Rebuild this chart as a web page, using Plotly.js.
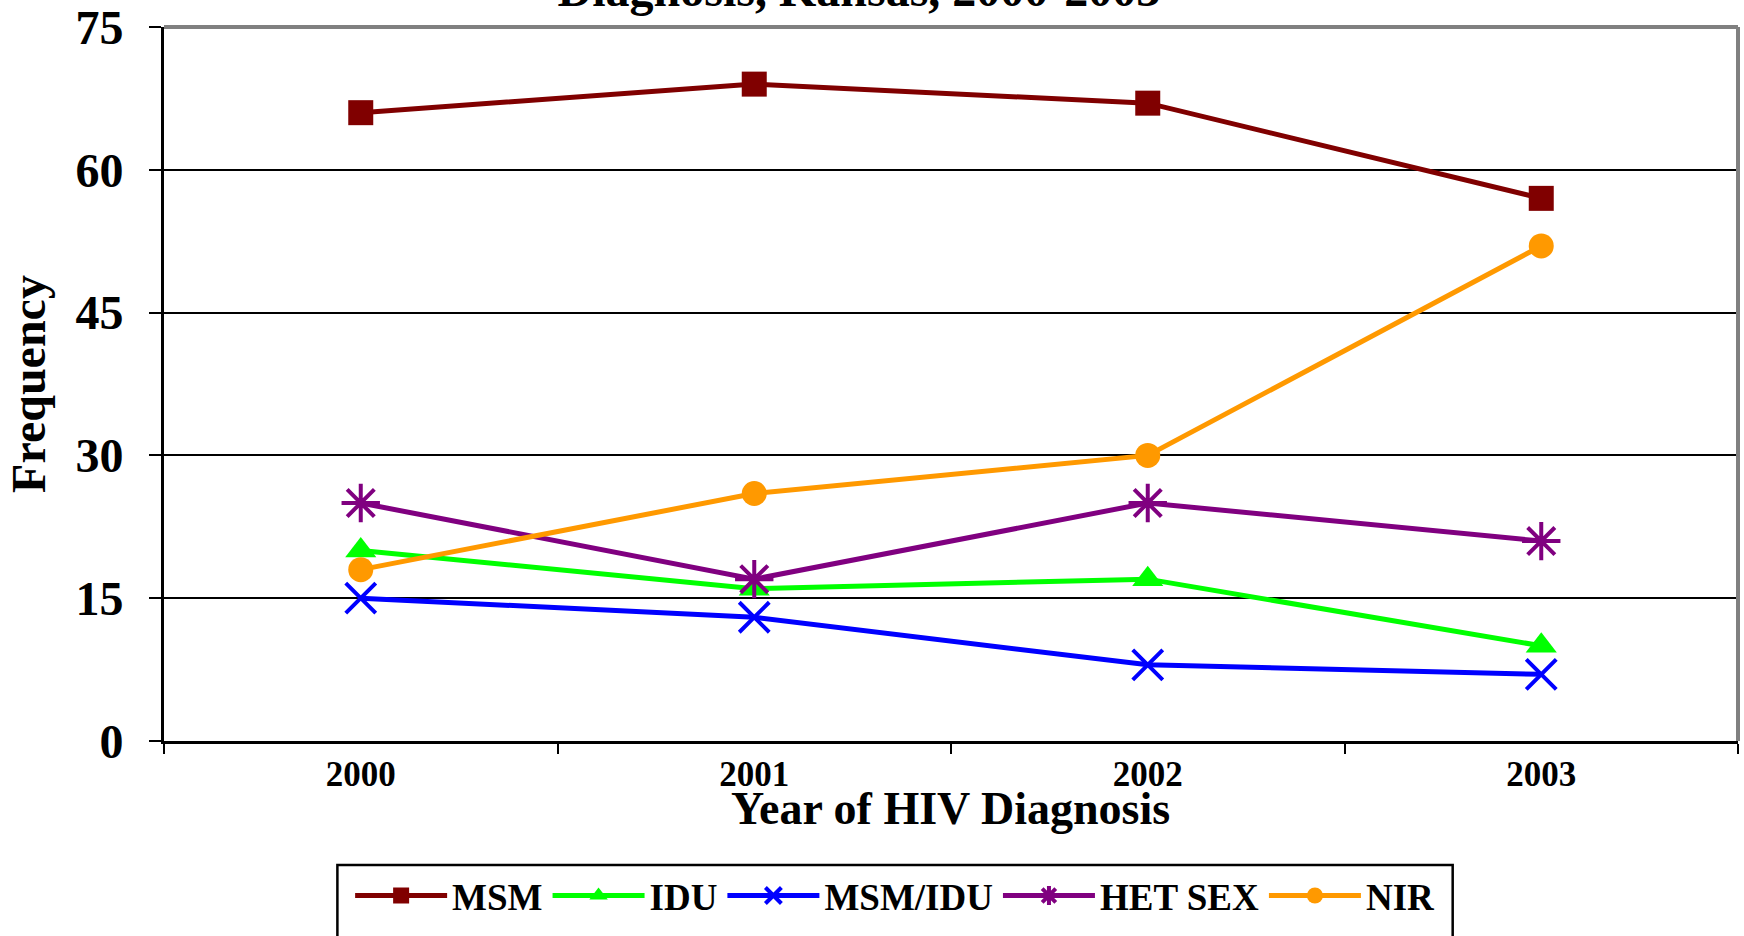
<!DOCTYPE html>
<html>
<head>
<meta charset="utf-8">
<script src="https://cdn.plot.ly/plotly-3.0.1.min.js"></script>
<style>
  html, body { margin: 0; padding: 0; background: #ffffff; }
  #chart { width: 1744px; height: 936px; }
</style>
</head>
<body>
<div id="chart"></div>
<script>
const years = ["2000", "2001", "2002", "2003"];
const msm = [66, 69, 67, 57];
const idu = [20, 16, 17, 10];
const msmIdu = [15, 13, 8, 7];
const hetSex = [25, 17, 25, 21];
const nir = [18, 26, 30, 52];
const yTicks = [0, 15, 30, 45, 60, 75];

const serif = "Liberation Serif, Times New Roman, Times, serif";

function series(name, values, color, symbol, size, lineMarker) {
  const marker = { color: color, size: size, symbol: symbol };
  if (lineMarker) {
    marker.line = { color: color, width: 4 };
  }
  return {
    x: years, y: values, name: name, type: "scatter", mode: "lines+markers",
    line: { color: color, width: 5 },
    marker: marker
  };
}

const data = [
  series("MSM", msm, "#800000", "square", 25, false),
  series("IDU", idu, "#00ff00", "triangle-up", 27, false),
  series("MSM/IDU", msmIdu, "#0000ff", "x-thin-open", 30, true),
  series("HET SEX", hetSex, "#800080", "asterisk-open", 32, true),
  series("NIR", nir, "#ff9900", "circle", 25, false)
];

const layout = {
  width: 1744, height: 936,
  paper_bgcolor: "#ffffff", plot_bgcolor: "#ffffff",
  margin: { l: 163.5, r: 5.5, t: 26.7, b: 195, autoexpand: false },
  font: { family: serif, color: "#000000", weight: "bold" },
  title: {
    text: "Diagnosis, Kansas, 2000-2003",
    font: { family: serif, size: 48, weight: "bold", color: "#000000" },
    xref: "container", x: 0.4925, xanchor: "center",
    yref: "container", y: 1 - 6 / 936, yanchor: "bottom"
  },
  xaxis: {
    type: "category",
    categoryarray: years,
    range: [-0.5, 3.5],
    tickson: "boundaries",
    ticks: "outside", ticklen: 10, tickwidth: 1.5, tickcolor: "#000000",
    ticklabelstandoff: 0,
    showline: true, linecolor: "#000000", linewidth: 3,
    showgrid: false, zeroline: false,
    tickfont: { family: serif, size: 35, weight: "bold", color: "#000000" }
  },
  yaxis: {
    range: [0, 75],
    tickvals: yTicks,
    ticktext: yTicks.map(String),
    ticks: "outside", ticklen: 12, tickwidth: 1.5, tickcolor: "#000000",
    ticklabelstandoff: 16,
    showline: true, linecolor: "#000000", linewidth: 3,
    showgrid: true, gridcolor: "#000000", gridwidth: 1.5,
    zeroline: false,
    tickfont: { family: serif, size: 48, weight: "bold", color: "#000000" },
    title: {
      text: "Frequency",
      font: { family: serif, size: 48, weight: "bold", color: "#000000" },
      standoff: 15
    }
  },
  annotations: [
    { text: "Year of HIV Diagnosis", xref: "paper", yref: "paper",
      x: 0.4995, y: -0.094, xanchor: "center", yanchor: "middle",
      showarrow: false,
      font: { family: serif, size: 46, weight: "bold", color: "#000000" } }
  ],
  shapes: [
    { type: "line", xref: "paper", yref: "paper", x0: 0, x1: 1, y0: 1, y1: 1,
      line: { color: "#808080", width: 4 } },
    { type: "line", xref: "paper", yref: "paper", x0: 1, x1: 1, y0: 0, y1: 1,
      line: { color: "#808080", width: 4 } },
    { type: "rect", xref: "paper", yref: "paper",
      x0: (337 - 163.5) / 1575, x1: (1453 - 163.5) / 1575,
      y0: (741 - 865) / 714.3, y1: (741 - 960) / 714.3,
      line: { color: "#000000", width: 2.5 }, fillcolor: "rgba(0,0,0,0)" }
  ],
  showlegend: true,
  legend: {
    orientation: "h",
    x: 0.4645, xanchor: "center",
    y: -0.1736, yanchor: "top",
    itemwidth: 92,
    borderwidth: 0,
    bgcolor: "rgba(0,0,0,0)",
    font: { family: serif, size: 37, weight: "bold", color: "#000000" }
  }
};

Plotly.newPlot("chart", data, layout, { displayModeBar: false, responsive: false });
</script>
</body>
</html>
